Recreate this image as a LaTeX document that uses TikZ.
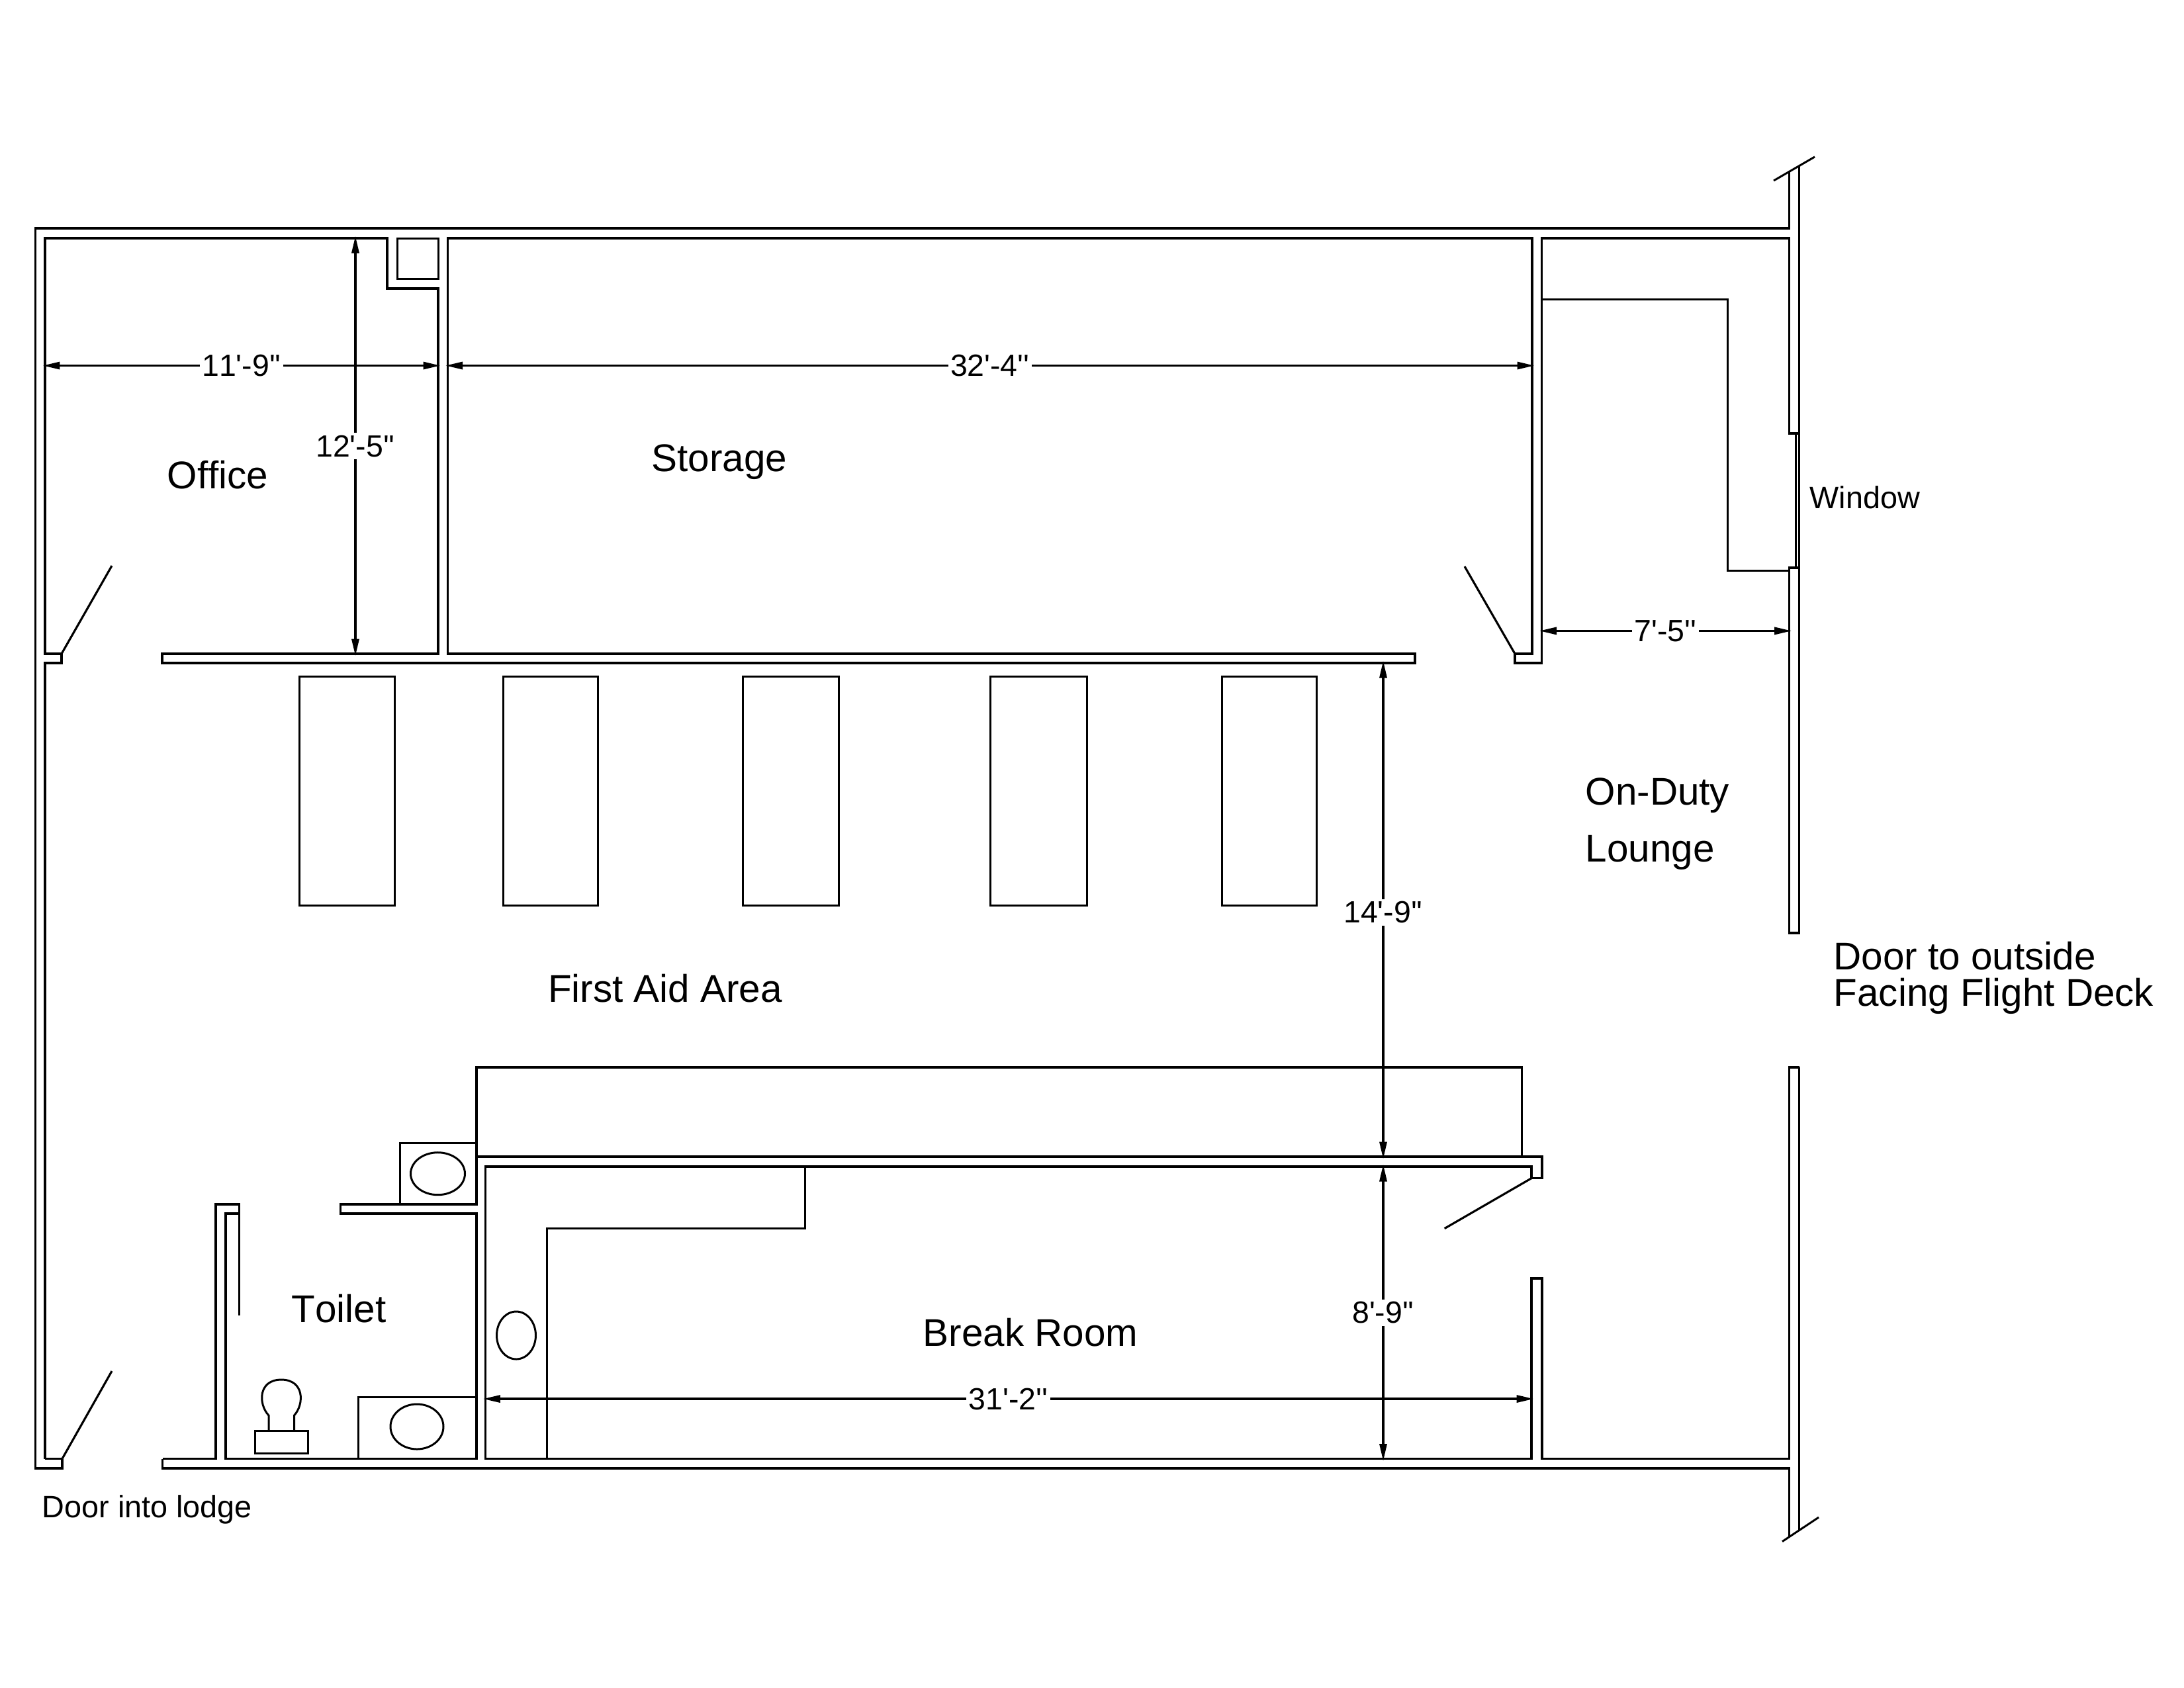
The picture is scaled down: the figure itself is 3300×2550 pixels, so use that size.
\documentclass[tikz,border=0pt]{standalone}
\usepackage{fontspec}
\usetikzlibrary{arrows.meta}
\newfontfamily\planfont[Kerning=Off]{Liberation Sans}
\tikzset{
  wall/.style={line width=0.9pt,line join=miter,black},
  fixture/.style={line width=0.85pt,black},
  dimline/.style={line width=0.9pt,black,shorten >=-1pt,shorten <=-1pt,{Triangle[length=0.26cm,width=0.11cm]}-{Triangle[length=0.26cm,width=0.11cm]}},
  roomlabel/.style={font=\planfont\fontsize{16.6pt}{19pt}\selectfont,inner sep=0pt},
  dimlabel/.style={font=\planfont\fontsize{13.2pt}{15pt}\selectfont,fill=white,inner xsep=1pt,inner ysep=1pt},
  smalllabel/.style={font=\planfont\fontsize{13.3pt}{15pt}\selectfont,inner sep=0pt},
}
\begin{document}
\begin{tikzpicture}[x=0.01cm,y=-0.01cm]
\useasboundingbox (0,0) rectangle (3300,2550);
% ---- outer wall, top and left
\draw[wall] (94,2204.5) -- (94,2219) -- (53.6,2219) -- (53.6,345) -- (2703.6,345) -- (2703.6,260);
\draw[wall] (68,2204.5) -- (94,2204.5);
\draw[wall] (68,2204.5) -- (68,1002) -- (93,1002) -- (93,988) -- (68,988) -- (68,360) -- (585,360) -- (585,436) -- (662,436) -- (662,988) -- (245,988) -- (245,1002) -- (2138,1002) -- (2138,988) -- (676.5,988) -- (676.5,360) -- (2315,360) -- (2315,988) -- (2289,988) -- (2289,1002) -- (2329.5,1002) -- (2329.5,360) -- (2703.6,360) -- (2703.6,655) -- (2717,655);
% closet
\draw[fixture] (600.5,360) rectangle (662,421);
% right wall
\draw[wall] (2718.5,251) -- (2718.5,1410) -- (2703.6,1410) -- (2703.6,858) -- (2717,858);
\draw[fixture] (2713,655) -- (2713,858);
% breaks
\draw[fixture] (2680,273) -- (2742,237);
\draw[fixture] (2693,2329.6) -- (2748,2293);
% lounge counter
\draw[fixture] (2329.5,452.6) -- (2610,452.6) -- (2610,862) -- (2703.6,862);
% bottom wall
\draw[wall] (245.5,2204.5) -- (245.5,2219) -- (2703.6,2219) -- (2703.6,2322);
\draw[wall] (2718.7,1613) -- (2718.7,2312);
\draw[wall] (245.5,2204.5) -- (326,2204.5) -- (326,1820) -- (361.6,1820) -- (361.6,1834) -- (341,1834) -- (341,2204.5) -- (720,2204.5) -- (720,1834) -- (514.7,1834) -- (514.7,1820) -- (720,1820) -- (720,1613) -- (2299.5,1613) -- (2299.5,1748);
\draw[wall] (720,1748) -- (2330,1748) -- (2330,1780.6) -- (2314,1780.6) -- (2314,1763) -- (733.4,1763) -- (733.4,2204.5) -- (2314,2204.5) -- (2314,1932) -- (2330,1932) -- (2330,2204.5) -- (2703.6,2204.5) -- (2703.6,1613) -- (2718.7,1613);
% toilet door leaf
\draw[wall] (361.6,1834) -- (361.6,1988);
% door leaves
\draw[wall] (93,988) -- (169,855);
\draw[wall] (2289,988) -- (2213,856);
\draw[wall] (94,2204.5) -- (169,2072);
\draw[wall] (2314,1780.6) -- (2182.6,1856.6);
% first-aid beds
\foreach \l/\r in {452.5/596,760/903,1122/1267,1496/1642,1846/1989}
  \draw[fixture] (\l,1022) rectangle (\r,1368);
% fixtures
\draw[fixture] (604,1820) -- (604,1727) -- (720,1727);
\draw[fixture] (661.5,1773.7) ellipse [x radius=41,y radius=32];
\draw[fixture] (541.5,2204.5) -- (541.5,2111) -- (720,2111);
\draw[fixture] (630,2156) ellipse [x radius=40,y radius=34];
\draw[fixture] (780,2018) ellipse [x radius=29.5,y radius=36];
\draw[fixture] (826.5,2204.5) -- (826.5,1856.7) -- (1216,1856.7) -- (1216,1763);
% toilet
\draw[fixture] (385,2162.5) rectangle (465.6,2196.4);
\draw[fixture] (406,2162.5) -- (406,2139) .. controls (390,2122) and (390,2085) .. (425,2085) .. controls (460,2085) and (460,2122) .. (444.5,2139) -- (444.5,2162.5);
% dimensions
\draw[dimline] (68,552.5) -- node[dimlabel,pos=0.5]{11'-9''} (662,552.5);
\draw[dimline] (676.5,552.5) -- node[dimlabel,pos=0.5]{32'-4''} (2315,552.5);
\draw[dimline] (537,360) -- node[dimlabel,pos=0.5]{12'-5''} (537,988);
\draw[dimline] (2329.5,953.4) -- node[dimlabel,pos=0.5]{7'-5''} (2703.6,953.4);
\draw[dimline] (2090,1002) -- node[dimlabel,pos=0.5,yshift=-1pt]{14'-9''} (2090,1748);
\draw[dimline] (2090,1763) -- node[dimlabel,pos=0.5]{8'-9''} (2090,2204.5);
\draw[dimline] (733.4,2114) -- node[dimlabel,pos=0.5]{31'-2''} (2314,2114);
% labels
\node[roomlabel] (office) at (329,718) {Office};
\node[roomlabel] (storage) at (1087,698) {Storage};
\node[roomlabel] (firstaid) at (1005,1494) {First Aid Area};
\node[roomlabel,anchor=west] (onduty) at (2395,1202) {On-Duty};
\node[roomlabel,anchor=west] (lounge) at (2395,1288) {Lounge};
\node[roomlabel,anchor=west] (door1) at (2770,1445) {Door to outside};
\node[roomlabel,anchor=west] (door2) at (2770,1505) {Facing Flight Deck};
\node[roomlabel] (toiletlabel) at (512,1978) {Toilet};
\node[roomlabel] (breakroom) at (1557,2014) {Break Room};
\node[smalllabel,anchor=west] (doorlodge) at (63,2281) {Door into lodge};
\node[smalllabel,anchor=west] (window) at (2734,752) {Window};
\end{tikzpicture}
\end{document}
